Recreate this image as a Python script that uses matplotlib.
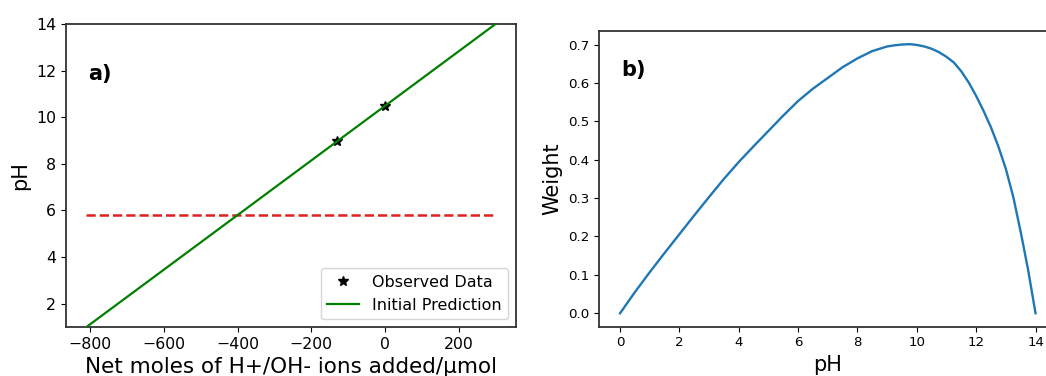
import matplotlib
matplotlib.use("Agg")
import matplotlib.pyplot as plt

# panel a) titration data
observed_x = [-130, 0]
observed_ph = [9.0, 10.5]
prediction_x = [-810, 300]
prediction_ph = [1.0, 14.0]
target_x = [-810, 300]
target_ph = [5.8, 5.8]

# panel b) weighting curve
weight_ph = [0, 0.5, 1, 1.5, 2, 2.5, 3, 3.5, 4, 4.5, 5, 5.5, 6, 6.5, 7, 7.5,
             8, 8.5, 9, 9.25, 9.5, 9.75, 10, 10.25, 10.5, 10.75, 11, 11.25,
             11.5, 11.75, 12, 12.25, 12.5, 12.75, 13, 13.25, 13.5, 13.75, 14]
weight = [0.0, 0.055, 0.107, 0.157, 0.206, 0.255, 0.303, 0.350, 0.394, 0.435,
          0.475, 0.515, 0.553, 0.585, 0.613, 0.641, 0.664, 0.683, 0.695, 0.698,
          0.700, 0.701, 0.699, 0.695, 0.689, 0.680, 0.668, 0.653, 0.630, 0.601,
          0.566, 0.527, 0.484, 0.434, 0.376, 0.303, 0.212, 0.113, 0.0]

fig = plt.figure(figsize=(10.46, 3.76), dpi=100)
ax1 = fig.add_axes([66 / 1046, 49 / 376, 450 / 1046, 303 / 376])
ax2 = fig.add_axes([599.3 / 1046, 49.3 / 376, 457 / 1046, 296 / 376])

for ax in (ax1, ax2):
    for spine in ax.spines.values():
        spine.set_linewidth(1.3)
        spine.set_color("#333333")

ax1.plot(observed_x, observed_ph, "*", color="black", markersize=7, label="Observed Data", zorder=2)
ax1.plot(prediction_x, prediction_ph, color="green", lw=1.6, label="Initial Prediction", zorder=3)
ax1.plot(target_x, target_ph, "--", color="#e02020", lw=1.8, zorder=2)
ax1.set_ylim(1, 14)
ax1.set_xlabel("Net moles of H+/OH- ions added/µmol", fontsize=15.5)
ax1.set_ylabel("pH", fontsize=15)
ax1.tick_params(labelsize=11.3)
ax1.legend(loc="lower right", fontsize=11.5)
ax1.text(0.049, 0.835, "a)", transform=ax1.transAxes, fontsize=15,
         fontweight="bold", va="center", ha="left")

ax2.plot(weight_ph, weight, color="#1f77b4", lw=1.7)
ax2.set_xticks(range(0, 15, 2))
ax2.set_xlabel("pH", fontsize=15)
ax2.set_ylabel("Weight", fontsize=15)
ax2.tick_params(labelsize=9.6)
ax2.text(0.049, 0.867, "b)", transform=ax2.transAxes, fontsize=15,
         fontweight="bold", va="center", ha="left")

fig.savefig("out.png", dpi=100)
